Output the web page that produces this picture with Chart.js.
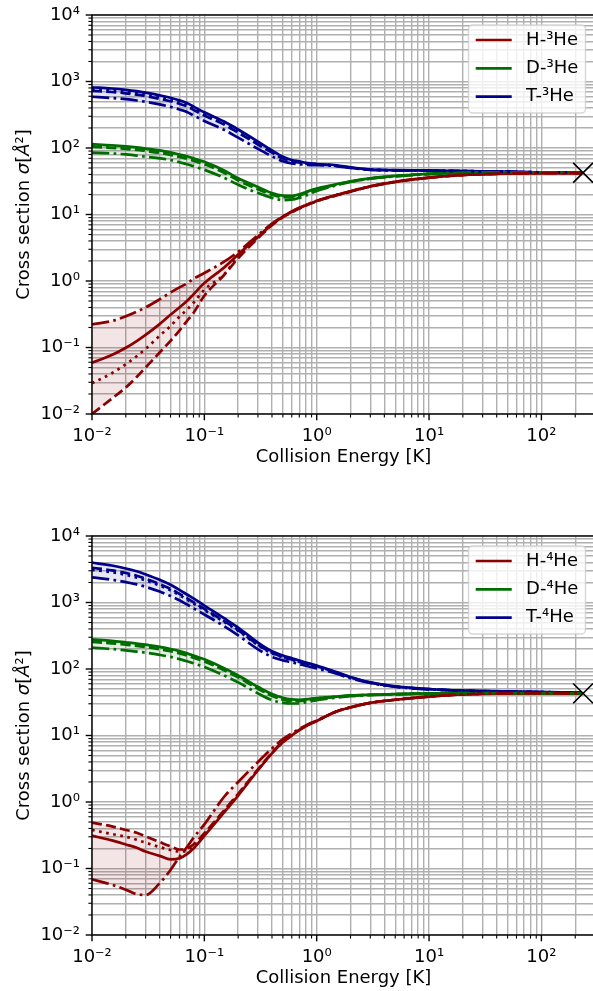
<!DOCTYPE html>
<html>
<head>
<meta charset="utf-8">
<script src="https://cdn.jsdelivr.net/npm/chart.js@4.4.0/dist/chart.umd.min.js"></script>
<style>
  html, body { margin: 0; padding: 0; background: #fff; overflow: hidden; width: 593px; height: 991px; }
  #wrap { position: relative; width: 593px; height: 991px; overflow: hidden; }
  canvas { position: absolute; left: 0; }
  #top { top: 0; }
  #bottom { top: 521px; }
</style>
</head>
<body>
<div id="wrap">
  <canvas id="top" width="600" height="470"></canvas>
  <canvas id="bottom" width="600" height="470"></canvas>
</div>
<script>
// Collision energies (K) shared by every curve
const energy = [0.01, 0.015, 0.02, 0.025, 0.03, 0.04, 0.05, 0.06, 0.07, 0.08, 0.1, 0.15, 0.2, 0.3, 0.4, 0.5, 0.6, 0.7, 0.8, 1, 1.5, 2, 3, 5, 10, 20, 50, 100, 230];

// Upper panel: X-3He cross sections (A^2)
const h3Solid   = [0.059, 0.077, 0.099, 0.125, 0.155, 0.225, 0.31, 0.4, 0.5, 0.63, 0.93, 1.6, 2.5, 4.6, 7.1, 9.3, 11, 12.5, 13.8, 16, 19.6, 22.3, 26.5, 31, 35.8, 39.3, 41.3, 41.8, 42];
const h3Dashed  = [0.01, 0.017, 0.025, 0.036, 0.05, 0.084, 0.126, 0.18, 0.25, 0.33, 0.6, 1.23, 2.2, 4.4, 6.9, 9.1, 10.8, 12.3, 13.6, 15.8, 19.4, 22.1, 26.3, 30.8, 35.6, 39.2, 41.2, 41.8, 42];
const h3Dotted  = [0.029, 0.041, 0.056, 0.074, 0.095, 0.15, 0.21, 0.29, 0.37, 0.47, 0.74, 1.26, 2.35, 4.5, 7.0, 9.2, 10.9, 12.4, 13.7, 15.9, 19.5, 22.2, 26.4, 30.9, 35.7, 39.3, 41.3, 41.8, 42];
const h3DashDot = [0.223, 0.25, 0.295, 0.345, 0.4, 0.53, 0.67, 0.8, 0.92, 1.08, 1.32, 1.95, 2.75, 4.9, 7.3, 9.4, 11.1, 12.6, 13.9, 16.1, 19.7, 22.4, 26.6, 31.1, 35.9, 39.4, 41.3, 41.8, 42];

const d3Solid   = [114, 110, 106, 102, 98, 92, 86, 80, 75, 70, 62, 46, 35, 26, 21, 19.2, 19, 20.2, 21.8, 24.5, 28.5, 31.5, 35, 38, 41, 42.5, 43, 43, 42.5];
const d3Dashed  = [104, 100.5, 97, 93.5, 90, 84.5, 79, 73.5, 69, 64.5, 57, 42.5, 32.5, 24, 19.8, 18.2, 18.1, 19.3, 20.9, 23.8, 28, 31.2, 34.7, 37.7, 40.8, 42.5, 43, 43, 42.5];
const d3Dotted  = [109, 105.5, 101.5, 97.5, 94, 88, 82.5, 77, 72, 67.5, 59.5, 44, 34, 25, 20.4, 18.7, 18.6, 19.8, 21.4, 24.2, 28.3, 31.4, 34.9, 37.9, 41, 42.5, 43, 43, 42.5];
const d3DashDot = [85, 83, 80, 77, 74, 70, 66, 61, 57, 53, 47, 35.5, 28, 21, 17.8, 16.5, 16.7, 17.8, 19.3, 22.5, 27.5, 30.8, 34.5, 37.5, 40.5, 42.5, 43, 43, 42.5];

const t3Solid   = [820, 785, 750, 715, 680, 620, 570, 520, 475, 420, 345, 250, 190, 125, 92, 74, 66, 63, 60, 57.5, 55, 51, 47.5, 46.5, 46, 45, 44, 43, 42.5];
const t3Dashed  = [725, 695, 665, 635, 605, 550, 505, 462, 422, 375, 308, 225, 170, 113, 85, 69.5, 63, 60.5, 58.5, 56.5, 54, 50.5, 47.2, 46.2, 45.8, 45, 44, 43, 42.5];
const t3Dotted  = [765, 732, 700, 668, 635, 578, 532, 485, 443, 392, 322, 233, 176, 117, 87, 71, 64, 61.5, 59, 57, 54.5, 50.8, 47.3, 46.3, 45.9, 45, 44, 43, 42.5];
const t3DashDot = [590, 565, 542, 518, 495, 452, 415, 380, 348, 310, 255, 188, 143, 97, 75, 63, 58.5, 57, 56, 55, 53.5, 50, 47, 46, 45.5, 45, 44, 43, 42.5];

// Lower panel: X-4He cross sections (A^2)
const h4Solid   = [0.31, 0.265, 0.23, 0.205, 0.18, 0.155, 0.137, 0.142, 0.165, 0.2, 0.31, 0.7, 1.25, 3.0, 5.4, 7.9, 10, 12, 13.8, 16.5, 23, 26.5, 31, 34.5, 38.5, 41.5, 43, 43.2, 43];
const h4Dashed  = [0.49, 0.43, 0.38, 0.345, 0.305, 0.25, 0.215, 0.193, 0.2, 0.23, 0.34, 0.75, 1.33, 3.1, 5.5, 8.0, 10.1, 12.1, 13.9, 16.6, 23, 26.5, 31, 34.5, 38.5, 41.5, 43, 43.2, 43];
const h4Dotted  = [0.38, 0.33, 0.3, 0.27, 0.245, 0.21, 0.19, 0.18, 0.185, 0.215, 0.325, 0.72, 1.29, 3.05, 5.45, 7.95, 10.05, 12.05, 13.85, 16.55, 23, 26.5, 31, 34.5, 38.5, 41.5, 43, 43.2, 43];
const h4DashDot = [0.0687, 0.057, 0.048, 0.041, 0.04, 0.06, 0.095, 0.15, 0.21, 0.29, 0.46, 1.2, 2.0, 4.0, 6.4, 8.8, 10.8, 12.6, 14.2, 16.8, 23, 26.5, 31, 34.5, 38.5, 41.5, 43, 43.2, 43];

const d4Solid   = [279, 265, 252, 242, 232, 215, 200, 186, 172, 160, 140, 103, 80, 54, 42, 37, 35, 34.5, 35, 36.5, 38.5, 40, 41, 42, 43, 43.5, 43.5, 43.5, 43];
const d4Dashed  = [255, 243, 232, 223, 214, 198, 185, 172, 160, 148, 130, 96, 75, 50.5, 39.5, 34.5, 33, 33, 33.8, 35.5, 38, 39.6, 40.8, 41.8, 42.8, 43.4, 43.5, 43.5, 43];
const d4Dotted  = [262, 250, 238, 229, 220, 204, 190, 176, 164, 152, 133, 98, 77, 52, 40.5, 35.5, 33.8, 33.6, 34.3, 36, 38.2, 39.8, 40.9, 41.9, 42.9, 43.4, 43.5, 43.5, 43];
const d4DashDot = [209, 200, 190, 183, 176, 163, 152, 141, 131, 122, 107, 80, 63, 43, 34, 31, 30.3, 30.5, 31.5, 34, 37, 39, 40.5, 41.5, 42.6, 43.3, 43.5, 43.5, 43];

const t4Solid   = [3970, 3600, 3250, 2950, 2650, 2200, 1850, 1550, 1320, 1150, 900, 580, 420, 250, 185, 160, 145, 134, 125, 113, 90, 76, 63, 55, 50, 47.5, 46, 45, 44];
const t4Dashed  = [3330, 3050, 2780, 2530, 2280, 1890, 1600, 1350, 1160, 1010, 800, 525, 385, 232, 175, 152, 139, 129, 121, 110, 88.5, 75, 62.5, 54.5, 49.7, 47.3, 45.9, 45, 44];
const t4Dotted  = [3100, 2850, 2600, 2370, 2150, 1790, 1520, 1290, 1110, 970, 770, 510, 375, 228, 172, 150, 137, 128, 120, 109, 88, 74.5, 62.3, 54.3, 49.6, 47.2, 45.8, 45, 44];
const t4DashDot = [2390, 2200, 2030, 1870, 1720, 1460, 1250, 1080, 935, 820, 660, 440, 320, 198, 152, 135, 126, 118, 112, 102, 85, 72.5, 61.5, 54, 49.4, 47.1, 45.8, 45, 44];

// High-energy reference point (black cross)
const markerEnergy = [235];
const markerTop = [42.5];
const markerBottom = [43];

// Axes
const xMin = 0.01, xMax = 300;
const yMin = 0.01, yMax = 1e4;
const xDecades = [-2, -1, 0, 1, 2];
const xTickLabels = ['10⁻²', '10⁻¹', '10⁰', '10¹', '10²'];
const yDecades = [-2, -1, 0, 1, 2, 3, 4];
const yTickLabels = ['10⁻²', '10⁻¹', '10⁰', '10¹', '10²', '10³', '10⁴'];

const labels3 = ['H-³He', 'D-³He', 'T-³He'];
const labels4 = ['H-⁴He', 'D-⁴He', 'T-⁴He'];
const colors = ['#8b0000', '#006d00', '#00008b'];
const fills = ['rgba(139,0,0,0.1)', 'rgba(0,109,0,0.1)', 'rgba(0,0,139,0.1)'];
const dashes = [[], [10, 4.3], [2.7, 4.5], [17.3, 4.3, 2.7, 4.3]];

const FONT = 'DejaVu Sans';
Chart.defaults.font.family = FONT;

// 1..9 x 10^n ticks inside the range
function logTicks(decades, min, max) {
    const out = [];
    decades.forEach(d => {
        for (let m = 1; m <= 9; m++) {
            const v = m * Math.pow(10, d);
            if (v >= min * 0.999 && v <= max * 1.001) out.push(v);
        }
    });
    return out;
}
const xTicks = logTicks(xDecades, xMin, xMax);
const yTicks = logTicks(yDecades, yMin, yMax);

function isDecade(v) {
    const d = Math.log10(v);
    return Math.abs(d - Math.round(d)) < 1e-6;
}
function decadeLabel(v, decades, labels) {
    if (!isDecade(v)) return '';
    const i = decades.indexOf(Math.round(Math.log10(v)));
    return i >= 0 ? labels[i] : '';
}

function pts(arr) {
    return energy.map((e, i) => ({ x: e, y: arr[i] }));
}

function buildDatasets(groups, markerY) {
    const sets = [];
    groups.forEach((g, k) => {
        // envelope of the four curves, shaded
        const upper = energy.map((e, i) => Math.max(...g.map(s => s[i])));
        const lower = energy.map((e, i) => Math.min(...g.map(s => s[i])));
        sets.push({ data: pts(upper), fill: '+1', backgroundColor: fills[k], borderColor: 'rgba(0,0,0,0)', borderWidth: 0, pointRadius: 0, order: 10 });
        sets.push({ data: pts(lower), fill: false, borderColor: 'rgba(0,0,0,0)', borderWidth: 0, pointRadius: 0, order: 10 });
        g.forEach((s, j) => {
            sets.push({
                data: pts(s),
                borderColor: colors[k],
                borderWidth: 2.7,
                borderDash: dashes[j],
                borderCapStyle: 'butt',
                pointRadius: 0,
                fill: false,
                order: 4 - j
            });
        });
    });
    sets.push({
        data: markerEnergy.map((e, i) => ({ x: e, y: markerY[i] })),
        showLine: false,
        pointStyle: 'crossRot',
        pointRadius: 14,
        borderColor: '#000',
        borderWidth: 1.6,
        order: 0
    });
    return sets;
}

// ticks, frame, y title and legend, drawn like matplotlib
const decor = {
    id: 'decor',
    afterDraw(chart, args, opts) {
        const { ctx, chartArea: a, scales } = chart;
        ctx.save();
        ctx.strokeStyle = '#000';
        scales.x.ticks.forEach(t => {
            const major = isDecade(t.value);
            const px = scales.x.getPixelForValue(t.value);
            ctx.lineWidth = major ? 1.4 : 1.1;
            ctx.beginPath();
            ctx.moveTo(px, a.bottom);
            ctx.lineTo(px, a.bottom + (major ? 6.3 : 3.6));
            ctx.stroke();
        });
        scales.y.ticks.forEach(t => {
            const major = isDecade(t.value);
            const py = scales.y.getPixelForValue(t.value);
            ctx.lineWidth = major ? 1.4 : 1.1;
            ctx.beginPath();
            ctx.moveTo(a.left, py);
            ctx.lineTo(a.left - (major ? 6.3 : 3.6), py);
            ctx.stroke();
        });
        ctx.lineWidth = 1.4;
        ctx.strokeRect(a.left, a.top, a.right - a.left, a.bottom - a.top);

        // y axis title with italic symbols
        const parts = [
            ['Cross section ', ''], ['σ', 'italic '], ['[', ''], ['Å', 'italic '], ['²', ''], [']', '']
        ];
        let total = 0;
        parts.forEach(p => { ctx.font = p[1] + '18px "' + FONT + '"'; total += ctx.measureText(p[0]).width; });
        ctx.translate(28.5, (a.top + a.bottom) / 2);
        ctx.rotate(-Math.PI / 2);
        ctx.fillStyle = '#000';
        ctx.textBaseline = 'alphabetic';
        ctx.textAlign = 'left';
        let cx = -total / 2;
        parts.forEach(p => {
            ctx.font = p[1] + '18px "' + FONT + '"';
            ctx.fillText(p[0], cx, 0);
            cx += ctx.measureText(p[0]).width;
        });
        ctx.setTransform(1, 0, 0, 1, 0, 0);

        // legend, upper right
        const labels = opts.labels;
        ctx.font = '18px "' + FONT + '"';
        const maxW = Math.max(...labels.map(l => ctx.measureText(l).width));
        const pad = 7.2, handle = 36, gap = 14.4, rowH = 28.35;
        const boxW = pad + handle + gap + maxW + pad;
        const boxH = 88;
        const bx = a.right - 9.5 - boxW;
        const by = a.top + 10;
        ctx.beginPath();
        ctx.roundRect(bx, by, boxW, boxH, 4);
        ctx.fillStyle = 'rgba(255,255,255,0.8)';
        ctx.fill();
        ctx.strokeStyle = 'rgba(204,204,204,0.8)';
        ctx.lineWidth = 1.4;
        ctx.stroke();
        labels.forEach((l, i) => {
            const ry = by + 15 + i * rowH;
            ctx.strokeStyle = colors[i];
            ctx.lineWidth = 2.7;
            ctx.beginPath();
            ctx.moveTo(bx + pad, ry);
            ctx.lineTo(bx + pad + handle, ry);
            ctx.stroke();
            ctx.fillStyle = '#000';
            ctx.textBaseline = 'middle';
            ctx.fillText(l, bx + pad + handle + gap, ry);
        });
        ctx.restore();
    }
};

function makeChart(id, groups, markerY, legendLabels) {
    return new Chart(document.getElementById(id), {
        type: 'line',
        data: { datasets: buildDatasets(groups, markerY) },
        options: {
            responsive: false,
            animation: false,
            events: [],
            layout: { autoPadding: false, padding: { top: 15, right: 5, left: 0, bottom: 0 } },
            elements: { line: { cubicInterpolationMode: 'monotone' } },
            plugins: {
                legend: { display: false },
                tooltip: { enabled: false },
                decor: { labels: legendLabels }
            },
            scales: {
                x: {
                    type: 'logarithmic',
                    min: xMin,
                    max: xMax,
                    // fixed box so the plot area lands where the original's does
                    afterFit: s => { s.height = 56; s.paddingLeft = 0; s.paddingRight = 0; },
                    afterBuildTicks: s => { s.ticks = xTicks.map(v => ({ value: v })); },
                    ticks: {
                        autoSkip: false,
                        maxRotation: 0,
                        padding: 12,
                        color: '#000',
                        font: { size: 18 },
                        callback: v => decadeLabel(v, xDecades, xTickLabels)
                    },
                    grid: { color: '#b0b0b0', lineWidth: 1.4, drawTicks: false },
                    border: { display: false },
                    title: {
                        display: true,
                        text: 'Collision Energy [K]',
                        color: '#000',
                        font: { size: 18, lineHeight: 1 },
                        padding: { top: 0, bottom: 3.3 }
                    }
                },
                y: {
                    type: 'logarithmic',
                    min: yMin,
                    max: yMax,
                    afterFit: s => { s.width = 92; s.paddingTop = 0; s.paddingBottom = 0; },
                    afterBuildTicks: s => { s.ticks = yTicks.map(v => ({ value: v })); },
                    ticks: {
                        autoSkip: false,
                        padding: 12,
                        color: '#000',
                        font: { size: 18 },
                        callback: v => decadeLabel(v, yDecades, yTickLabels)
                    },
                    grid: { color: '#b0b0b0', lineWidth: 1.4, drawTicks: false },
                    border: { display: false },
                    title: { display: false }
                }
            }
        },
        plugins: [decor]
    });
}

makeChart('top', [
    [h3Solid, h3Dashed, h3Dotted, h3DashDot],
    [d3Solid, d3Dashed, d3Dotted, d3DashDot],
    [t3Solid, t3Dashed, t3Dotted, t3DashDot]
], markerTop, labels3);

makeChart('bottom', [
    [h4Solid, h4Dashed, h4Dotted, h4DashDot],
    [d4Solid, d4Dashed, d4Dotted, d4DashDot],
    [t4Solid, t4Dashed, t4Dotted, t4DashDot]
], markerBottom, labels4);
</script>
</body>
</html>
